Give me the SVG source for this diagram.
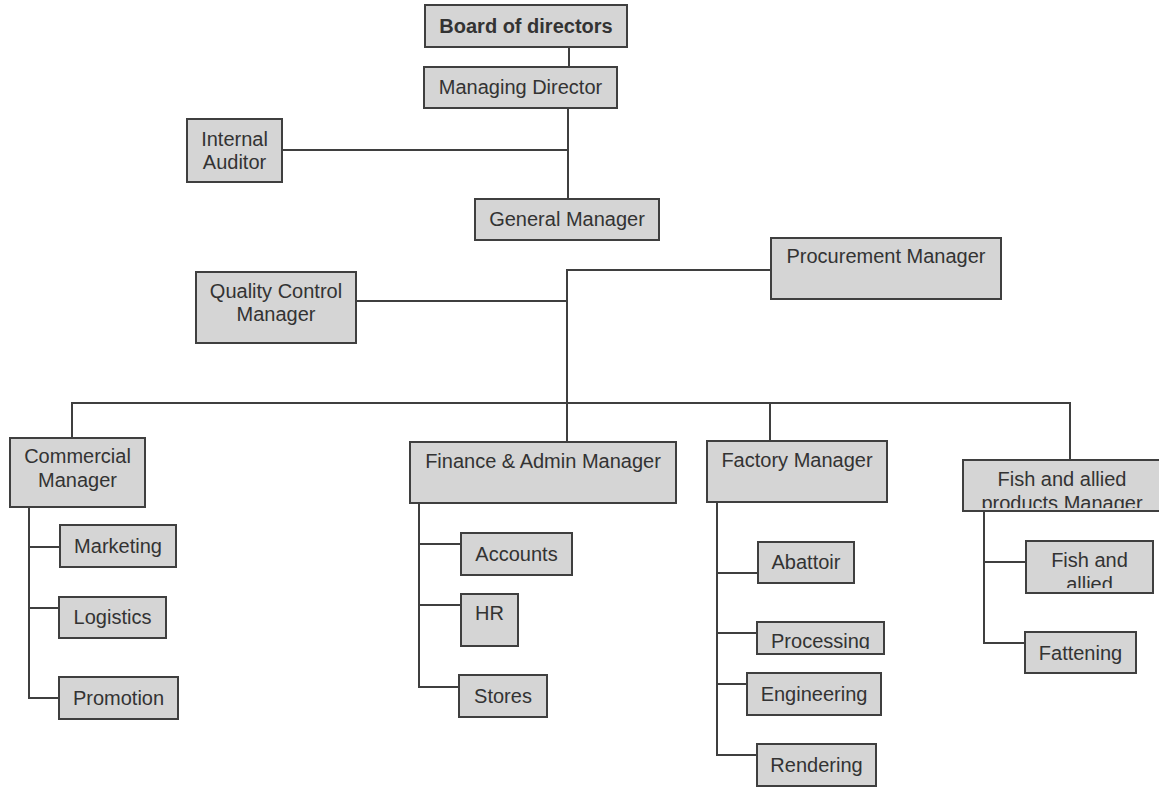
<svg xmlns="http://www.w3.org/2000/svg" width="1159" height="787" viewBox="0 0 1159 787">
<style>
.box{fill:#d5d5d5;stroke:#3f3f3f;stroke-width:2}
.t{font-family:"Liberation Sans",Arial,sans-serif;font-size:20px;fill:#333;text-anchor:middle}
.b{font-weight:bold}
.ln{fill:none;stroke:#3f3f3f;stroke-width:2}
</style>
<defs>
<clipPath id="cpFishMgr"><rect x="963" y="460" width="197" height="48"/></clipPath>
<clipPath id="cpFish"><rect x="1026" y="541" width="127" height="47"/></clipPath>
<clipPath id="cpProc"><rect x="757" y="622" width="127" height="27"/></clipPath>
</defs>
<rect width="1159" height="787" fill="#fff"/>
<g id="connectors">
<path class="ln" d="M569 47V67"/>
<path class="ln" d="M568 108V199"/>
<path class="ln" d="M282 150H568"/>
<path class="ln" d="M771 270H567V403"/>
<path class="ln" d="M356 301H567"/>
<path class="ln" d="M72 438V403H1070V460"/>
<path class="ln" d="M567 403V442"/>
<path class="ln" d="M770 403V441"/>
<path class="ln" d="M29 507V698H59M29 547H60M29 608H59"/>
<path class="ln" d="M419 503V687H459M419 544H461M419 605H461"/>
<path class="ln" d="M717 502V755H757M717 573H758M717 633H757M717 684H747"/>
<path class="ln" d="M984 511V643H1025M984 562H1026"/>
</g>
<g id="board"><rect class="box" x="425" y="5" width="202" height="42"/><text class="t b" x="526" y="33">Board of directors</text></g>
<g id="md"><rect class="box" x="424" y="67" width="193" height="41"/><text class="t" x="520.5" y="94">Managing Director</text></g>
<g id="auditor"><rect class="box" x="187" y="119" width="95" height="63"/><text class="t" x="234.5" y="146">Internal</text><text class="t" x="234.5" y="169">Auditor</text></g>
<g id="gm"><rect class="box" x="475" y="199" width="184" height="41"/><text class="t" x="567" y="226">General Manager</text></g>
<g id="procurement"><rect class="box" x="771" y="238" width="230" height="61"/><text class="t" x="886" y="263">Procurement Manager</text></g>
<g id="qc"><rect class="box" x="196" y="272" width="160" height="71"/><text class="t" x="276" y="298">Quality Control</text><text class="t" x="276" y="321">Manager</text></g>
<g id="commercial"><rect class="box" x="10" y="438" width="135" height="69"/><text class="t" x="77.5" y="463">Commercial</text><text class="t" x="77.5" y="487">Manager</text></g>
<g id="finance"><rect class="box" x="410" y="442" width="266" height="61"/><text class="t" x="543" y="468">Finance &amp; Admin Manager</text></g>
<g id="factory"><rect class="box" x="707" y="441" width="180" height="61"/><text class="t" x="797" y="467">Factory Manager</text></g>
<g id="fishmgr"><rect class="box" x="963" y="460" width="197" height="51"/><g clip-path="url(#cpFishMgr)"><text class="t" x="1062" y="486">Fish and allied</text><text class="t" x="1062" y="510">products Manager</text></g></g>
<g id="marketing"><rect class="box" x="60" y="525" width="116" height="42"/><text class="t" x="118" y="553">Marketing</text></g>
<g id="logistics"><rect class="box" x="59" y="597" width="107" height="41"/><text class="t" x="112.5" y="624">Logistics</text></g>
<g id="promotion"><rect class="box" x="59" y="677" width="119" height="42"/><text class="t" x="118.5" y="705">Promotion</text></g>
<g id="accounts"><rect class="box" x="461" y="533" width="111" height="42"/><text class="t" x="516.5" y="561">Accounts</text></g>
<g id="hr"><rect class="box" x="461" y="594" width="57" height="52"/><text class="t" x="489.5" y="620">HR</text></g>
<g id="stores"><rect class="box" x="459" y="675" width="88" height="42"/><text class="t" x="503" y="703">Stores</text></g>
<g id="abattoir"><rect class="box" x="758" y="542" width="96" height="41"/><text class="t" x="806" y="569">Abattoir</text></g>
<g id="processing"><rect class="box" x="757" y="622" width="127" height="32"/><g clip-path="url(#cpProc)"><text class="t" x="820.5" y="648">Processing</text></g></g>
<g id="engineering"><rect class="box" x="747" y="673" width="134" height="42"/><text class="t" x="814" y="701">Engineering</text></g>
<g id="rendering"><rect class="box" x="757" y="744" width="119" height="42"/><text class="t" x="816.5" y="772">Rendering</text></g>
<g id="fish"><rect class="box" x="1026" y="541" width="127" height="52"/><g clip-path="url(#cpFish)"><text class="t" x="1089.5" y="567">Fish and</text><text class="t" x="1089.5" y="591">allied</text></g></g>
<g id="fattening"><rect class="box" x="1025" y="632" width="111" height="41"/><text class="t" x="1080.5" y="660">Fattening</text></g>
</svg>
